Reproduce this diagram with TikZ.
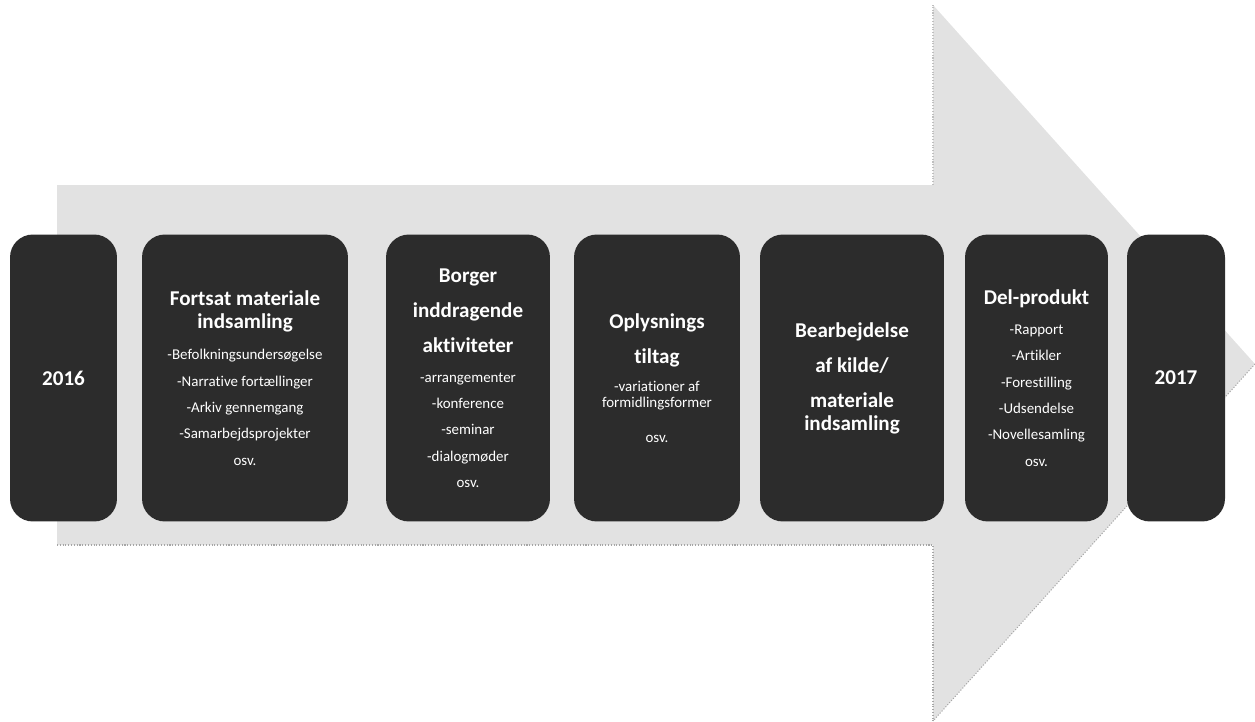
\documentclass[tikz,border=0pt]{standalone}
\usepackage{fontspec}
\setmainfont{Carlito}[Ligatures=NoCommon]
\usepackage{tikz}
\definecolor{cardc}{RGB}{44,44,44}
\definecolor{arrc}{RGB}{226,226,226}
\newcommand{\stagehead}{\fontsize{12}{14.5}\selectfont\bfseries}
\newcommand{\stageitem}{\fontsize{8.5}{15}\selectfont}
\tikzset{
  card/.style={fill=cardc,rounded corners=13pt,text=white,align=center,
    minimum height=5.74cm,inner sep=0pt,font=\stageitem},
  rim/.style={gray!70,densely dotted,line width=0.6pt}
}

\begin{document}
\begin{tikzpicture}[x=0.02cm,y=-0.02cm]
\useasboundingbox (0,0) rectangle (1255,721);
% big arrow
\fill[arrc] (57,185) -- (933,185) -- (933,5) -- (1255,364) -- (933,721) -- (933,545) -- (57,545) -- cycle;
\draw[rim] (57,545) -- (933,545) -- (933,721);
\draw[rim,gray!50] (933,185) -- (933,5);
\draw[rim] (1255,364) -- (933,721);
% cards
\node[card,minimum width=2.14cm] (y2016) at (63.5,378) {\stagehead 2016};
\node[card,minimum width=4.12cm] (fortsat) at (245,378) {{\stagehead Fortsat materiale}\\[-2pt]
  {\stagehead indsamling}\\[3pt] -Befolkningsundersøgelse\\ -Narrative fortællinger\\
  -Arkiv gennemgang\\ -Samarbejdsprojekter\\ osv.};
\node[card,minimum width=3.28cm] (borger) at (468,378) {{\stagehead Borger}\\[5pt]
  {\stagehead inddragende}\\[5pt] {\stagehead aktiviteter}\\[2pt] -arrangementer\\ -konference\\
  -seminar\\ -dialogmøder\\ osv.};
\node[card,minimum width=3.32cm] (oplys) at (657,378) {{\stagehead Oplysnings}\\[5pt]
  {\stagehead tiltag}\\[1pt] -variationer af\\[-6pt] formidlingsformer\\[5pt] osv.};
\node[card,minimum width=3.68cm] (bearb) at (852,378) {{\stagehead Bearbejdelse}\\[5pt]
  {\stagehead af kilde/}\\[5pt] {\stagehead materiale}\\[-2pt] {\stagehead indsamling}};
\node[card,minimum width=2.86cm] (delprod) at (1036.5,378) {{\stagehead Del-produkt}\\[2pt]
  -Rapport\\ -Artikler\\ -Forestilling\\ -Udsendelse\\ -Novellesamling\\ osv.};
\node[card,minimum width=1.96cm] (y2017) at (1176,378) {\stagehead 2017};
\end{tikzpicture}
\end{document}
